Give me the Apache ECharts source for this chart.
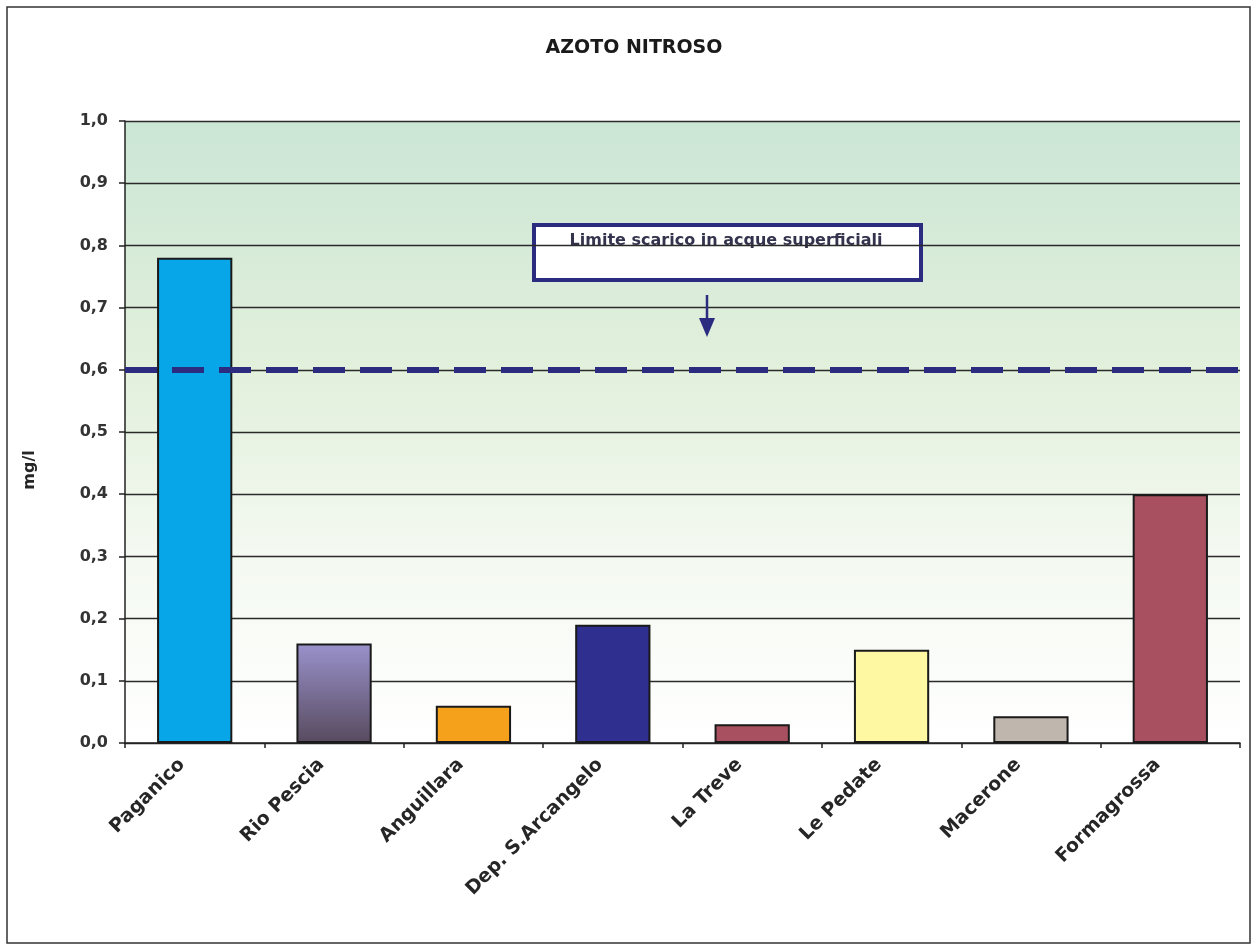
<!DOCTYPE html>
<html>
<head>
<meta charset="utf-8">
<script src="https://cdn.jsdelivr.net/npm/echarts@6/dist/echarts.min.js"></script>
<style>
  html, body { margin: 0; padding: 0; background: #fff; }
  #chart { width: 1252px; height: 947px; }
</style>
</head>
<body>
<div id="chart"></div>
<script>
// Sampling stations and nitrite nitrogen concentrations (mg/l)
const stations = ['Paganico', 'Rio Pescia', 'Anguillara', 'Dep. S.Arcangelo', 'La Treve', 'Le Pedate', 'Macerone', 'Formagrossa'];
const nitrite = [0.78, 0.16, 0.06, 0.19, 0.03, 0.15, 0.043, 0.40];
const limitValue = 0.6;
const limitText = 'Limite scarico in acque superficiali';
const unitText = 'mg/l';

const barColors = [
  '#06A6E8',
  { type: 'linear', x: 0, y: 0, x2: 0, y2: 1, colorStops: [{ offset: 0, color: '#9A92CC' }, { offset: 1, color: '#574A5E' }] },
  '#F5A11C',
  '#2F2F8F',
  '#A8505F',
  '#FFF8A2',
  '#BFB6AE',
  '#A8505F'
];

const FONT = '"DejaVu Sans", Verdana, sans-serif';
const NAVY = '#2B2B80';
const chart = echarts.init(document.getElementById('chart'));

chart.setOption({
  animation: false,
  title: {
    text: 'AZOTO NITROSO',
    left: 629, textAlign: 'center', top: 34,
    textStyle: { fontFamily: FONT, fontSize: 19, fontWeight: 'bold', color: '#1a1a1a' }
  },
  grid: {
    left: 125, right: 12, top: 121, bottom: 204,
    show: true, borderWidth: 0,
    backgroundColor: {
      type: 'linear', x: 0, y: 0, x2: 0, y2: 1,
      colorStops: [
        { offset: 0, color: '#CBE6D5' },
        { offset: 0.4, color: '#E2F0DC' },
        { offset: 0.7, color: '#F4F9F1' },
        { offset: 1, color: '#FFFFFF' }
      ]
    }
  },
  xAxis: {
    type: 'category',
    data: stations,
    axisLine: { lineStyle: { color: '#222', width: 1.5 } },
    axisTick: { show: true, length: 5, lineStyle: { color: '#222', width: 1.5 } },
    axisLabel: {
      rotate: 45, margin: 6, interval: 0,
      padding: [0, 18, 0, 0],
      fontFamily: FONT, fontSize: 19, fontWeight: 'bold', color: '#262626'
    }
  },
  yAxis: {
    type: 'value',
    min: 0, max: 1, interval: 0.1,
    axisLine: { show: true, lineStyle: { color: '#222', width: 1.5 } },
    axisTick: { show: true, length: 6, lineStyle: { color: '#222', width: 1.5 } },
    axisLabel: {
      margin: 17, fontFamily: FONT, fontSize: 16, fontWeight: 'bold', color: '#333',
      formatter: v => v.toFixed(1).replace('.', ',')
    },
    splitLine: { lineStyle: { color: '#2a2a2a', width: 1.3 } }
  },
  series: [{
    type: 'bar',
    barWidth: '54%',
    data: nitrite.map((v, i) => ({
      value: v,
      itemStyle: { color: barColors[i], borderColor: '#1a1a1a', borderWidth: 2 }
    })),
    markLine: {
      silent: true,
      symbol: 'none',
      label: { show: false },
      lineStyle: { color: NAVY, width: 6, type: [32, 15], opacity: 1 },
      data: [{ yAxis: limitValue }]
    }
  }],
  graphic: [
    // outer frame
    {
      type: 'rect', z: 100, silent: true,
      shape: { x: 7, y: 7, width: 1243, height: 936 },
      style: { fill: 'none', stroke: '#333', lineWidth: 1.5 }
    },
    // unit label
    {
      type: 'text', x: 30, y: 470, rotation: Math.PI / 2, z: 100,
      style: {
        text: unitText, textAlign: 'center', textVerticalAlign: 'middle',
        font: 'bold 16px "DejaVu Sans", Verdana, sans-serif', fill: '#262626'
      }
    },
    // limit annotation box
    {
      type: 'group', x: 534, y: 225, z: 100,
      children: [
        {
          type: 'rect', shape: { x: 0, y: 0, width: 387, height: 55 },
          style: { fill: '#fff', stroke: NAVY, lineWidth: 4 }
        },
        {
          type: 'text', x: 192, y: 16,
          style: {
            text: limitText, textAlign: 'center', textVerticalAlign: 'middle',
            font: 'bold 16px "DejaVu Sans", Verdana, sans-serif', fill: '#33334d'
          }
        }
      ]
    },
    // arrow pointing at the limit line
    {
      type: 'line', z: 100,
      shape: { x1: 707, y1: 295, x2: 707, y2: 322 },
      style: { stroke: NAVY, lineWidth: 2.5 }
    },
    {
      type: 'polygon', z: 100,
      shape: { points: [[699, 318], [715, 318], [707, 337]] },
      style: { fill: NAVY }
    }
  ]
});
</script>
</body>
</html>
